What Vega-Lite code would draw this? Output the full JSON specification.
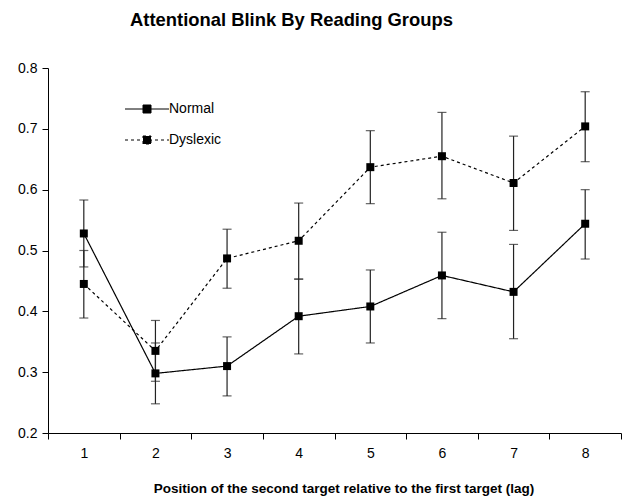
{
  "$schema": "https://vega.github.io/schema/vega-lite/v6.json",
  "width": 573,
  "height": 365,
  "autosize": "none",
  "padding": {"left": 48, "top": 68, "right": 1, "bottom": 64},
  "background": "white",
  "config": {
    "view": {"stroke": null},
    "font": "Liberation Sans"
  },
  "title": {
    "text": "Attentional Blink By Reading Groups",
    "font": "Liberation Sans",
    "fontSize": 18.4,
    "fontWeight": "bold",
    "color": "black",
    "anchor": "middle",
    "frame": "group",
    "dx": -43,
    "offset": 32
  },
  "data": {
    "values": [
      {"lag": 1, "group": "Normal", "mean": 0.528, "lo": 0.473, "hi": 0.583},
      {"lag": 2, "group": "Normal", "mean": 0.298, "lo": 0.248, "hi": 0.348},
      {"lag": 3, "group": "Normal", "mean": 0.310, "lo": 0.261, "hi": 0.358},
      {"lag": 4, "group": "Normal", "mean": 0.392, "lo": 0.330, "hi": 0.453},
      {"lag": 5, "group": "Normal", "mean": 0.408, "lo": 0.348, "hi": 0.468},
      {"lag": 6, "group": "Normal", "mean": 0.459, "lo": 0.388, "hi": 0.530},
      {"lag": 7, "group": "Normal", "mean": 0.432, "lo": 0.355, "hi": 0.510},
      {"lag": 8, "group": "Normal", "mean": 0.544, "lo": 0.486, "hi": 0.600},
      {"lag": 1, "group": "Dyslexic", "mean": 0.445, "lo": 0.389, "hi": 0.500},
      {"lag": 2, "group": "Dyslexic", "mean": 0.335, "lo": 0.285, "hi": 0.385},
      {"lag": 3, "group": "Dyslexic", "mean": 0.487, "lo": 0.438, "hi": 0.535},
      {"lag": 4, "group": "Dyslexic", "mean": 0.516, "lo": 0.453, "hi": 0.578},
      {"lag": 5, "group": "Dyslexic", "mean": 0.637, "lo": 0.577, "hi": 0.697},
      {"lag": 6, "group": "Dyslexic", "mean": 0.655, "lo": 0.585, "hi": 0.727},
      {"lag": 7, "group": "Dyslexic", "mean": 0.611, "lo": 0.533, "hi": 0.688},
      {"lag": 8, "group": "Dyslexic", "mean": 0.704, "lo": 0.646, "hi": 0.761}
    ]
  },
  "encoding": {
    "x": {
      "field": "lag",
      "type": "quantitative",
      "scale": {"domain": [0.5, 8.5], "nice": false, "zero": false},
      "axis": {
        "title": "Position of the second target relative to the first target (lag)",
        "titleFont": "Liberation Sans",
        "titleFontSize": 13.5,
        "titleFontWeight": "bold",
        "titleColor": "black",
        "titlePadding": 21,
        "titleX": 295.5,
        "values": [0.5, 1.5, 2.5, 3.5, 4.5, 5.5, 6.5, 7.5, 8.5],
        "labelExpr": "datum.value < 8 ? format(datum.value + 0.5, 'd') : ''",
        "labelOffset": 35.8,
        "labelFlush": false,
        "labelOverlap": false,
        "labelFont": "Liberation Sans",
        "labelFontSize": 14,
        "labelColor": "black",
        "labelPadding": 7,
        "tickSize": 6,
        "tickColor": "black",
        "domainColor": "black",
        "grid": false
      }
    }
  },
  "layer": [
    {
      "mark": {"type": "rule", "color": "#222", "strokeWidth": 1.2},
      "encoding": {
        "y": {
          "field": "lo",
          "type": "quantitative",
          "scale": {"domain": [0.2, 0.8], "nice": false, "zero": false},
          "axis": {
            "title": null,
            "values": [0.2, 0.3, 0.4, 0.5, 0.6, 0.7, 0.8],
            "format": ".1f",
            "labelFont": "Liberation Sans",
            "labelFontSize": 14,
            "labelColor": "black",
            "labelPadding": 5,
            "tickSize": 6,
            "tickColor": "black",
            "domainColor": "black",
            "grid": false
          }
        },
        "y2": {"field": "hi"}
      }
    },
    {
      "mark": {"type": "tick", "orient": "horizontal", "color": "#222", "size": 9, "thickness": 1.2},
      "encoding": {"y": {"field": "lo", "type": "quantitative"}}
    },
    {
      "mark": {"type": "tick", "orient": "horizontal", "color": "#222", "size": 9, "thickness": 1.2},
      "encoding": {"y": {"field": "hi", "type": "quantitative"}}
    },
    {
      "mark": {"type": "line", "color": "black", "strokeWidth": 1.2},
      "encoding": {
        "y": {"field": "mean", "type": "quantitative"},
        "strokeDash": {
          "field": "group",
          "type": "nominal",
          "scale": {"domain": ["Normal", "Dyslexic"], "range": [[1, 0], [3, 3]]},
          "legend": {
            "title": null,
            "orient": "none",
            "legendX": 92,
            "legendY": 34,
            "padding": 0,
            "symbolType": "M-4.4,0H4.4M-0.8,-0.8H0.8V0.8H-0.8Z",
            "symbolSize": 100,
            "symbolStrokeColor": "black",
            "symbolFillColor": "black",
            "symbolStrokeWidth": 1,
            "labelFont": "Liberation Sans",
            "labelFontSize": 14,
            "labelColor": "black",
            "labelOffset": 15,
            "rowPadding": 17,
            "encode": {"symbols": {"update": {"fill": {"value": "black"}, "stroke": {"value": "black"}}}}
          }
        }
      }
    },
    {
      "mark": {"type": "point", "shape": "square", "filled": true, "color": "black", "size": 64, "opacity": 1},
      "encoding": {
        "y": {"field": "mean", "type": "quantitative"},
        "detail": {"field": "group", "type": "nominal"}
      }
    }
  ]
}
